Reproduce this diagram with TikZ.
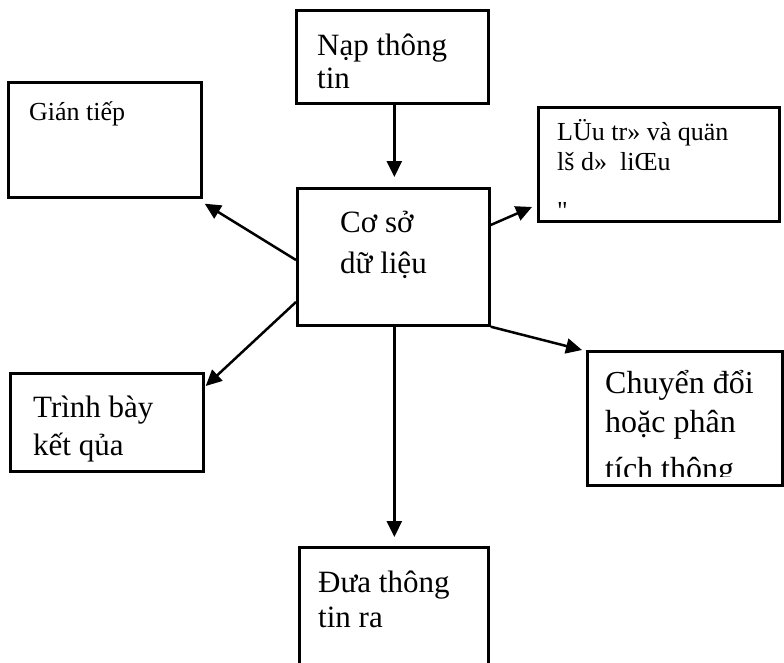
\documentclass[tikz,border=0pt]{standalone}
\usepackage{fontspec}
\setmainfont{Liberation Serif}
\newfontfamily\rawserif{Liberation Serif}
\usetikzlibrary{arrows.meta,calc}
\begin{document}
\begin{tikzpicture}[x=1pt,y=-1pt,
  box/.style={draw, line width=2.7pt, inner sep=0pt, anchor=north west},
  txt/.style={inner sep=0pt, anchor=base west},
  big/.style={font=\fontsize{31}{36}\selectfont},
  small/.style={font=\fontsize{26}{30}\selectfont},
  arr/.style={line width=2.5pt, -{Triangle[length=16pt,width=15pt]}}]
\useasboundingbox[fill=white] (0,0) rectangle (784,662);
% boxes
\node[box, minimum width=192pt, minimum height=93pt] (nap) at (295,9) {};
\node[box, minimum width=192pt, minimum height=137pt] (db) at (296,187) {};
\node[box, minimum width=193pt, minimum height=115pt] (gian) at (7,81) {};
\node[box, minimum width=241pt, minimum height=114pt] (luu) at (537,106) {};
\node[box, minimum width=195pt, minimum height=134pt] (chuyen) at (586,350) {};
\node[box, minimum width=193pt, minimum height=98pt] (trinh) at (9,372) {};
\node[box, minimum width=189pt, minimum height=118pt] (dua) at (298,546) {};
% texts
\node[txt,big] (nap1) at (317,55) {Nạp thông};
\node[txt,big] (nap2) at (317,88) {tin};
\node[txt,small] (gian1) at (29,120) {Gián tiếp};
\node[txt,small] (luu1) at (557,140) {LÜu tr» và quän};
\node[txt,small] (luu2) at (557,170) {lš d»\ \ liŒu};
\node[txt,font=\rawserif\fontsize{26}{30}\selectfont] (luu3) at (557,219) {"};
\node[txt,big] (db1) at (340,232) {Cơ sở};
\node[txt,big] (db2) at (340,273) {dữ liệu};
\node[txt,big] (tr1) at (33,417) {Trình bày};
\node[txt,big] (tr2) at (33,455) {kết qủa};
\begin{scope}
\clip (588,352) rectangle (779,476);
\node[txt,font=\fontsize{32}{38}\selectfont] (ch1) at (605,393) {Chuyển đổi};
\node[txt,font=\fontsize{32}{38}\selectfont] (ch2) at (605,432) {hoặc phân};
\node[txt,font=\fontsize{32}{38}\selectfont] (ch3) at (605,479) {tích thông};
\end{scope}
\node[txt,big] (dua1) at (318,592) {Đưa thông};
\node[txt,big] (dua2) at (318,627) {tin ra};
% arrows
\draw[arr] ([xshift=2pt]nap.south) -- ([xshift=1pt,yshift=10pt]db.north);
\draw[arr] ([yshift=-73pt]db.north west) -- ([xshift=2pt,yshift=-5pt]gian.south east);
\draw[arr] ([yshift=-115pt]db.north west) -- ([xshift=1pt,yshift=-14pt]trinh.north east);
\draw[arr] ([yshift=-38pt]db.north east) -- ([xshift=-5pt,yshift=-101pt]luu.north west);
\draw[arr] (db.south east) -- ([xshift=-4pt]chuyen.north west);
\draw[arr] ([xshift=1pt]db.south) -- ([xshift=0.5pt,yshift=9pt]dua.north);
\end{tikzpicture}
\end{document}
